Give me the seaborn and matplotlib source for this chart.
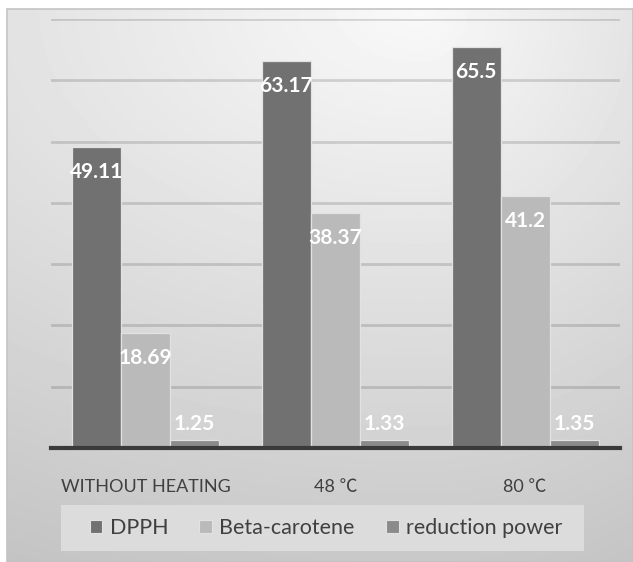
import matplotlib
matplotlib.use("Agg")
import matplotlib.pyplot as plt
from matplotlib.patches import Rectangle
import numpy as np
import pandas as pd
import seaborn as sns

# ---- data ----
conditions = ["WITHOUT HEATING", "48 ℃", "80 ℃"]
assays = ["DPPH", "Beta-carotene", "reduction power"]
dpph = [49.11, 63.17, 65.5]
beta_carotene = [18.69, 38.37, 41.2]
reduction_power = [1.25, 1.33, 1.35]
bar_colors = ["#717171", "#bababa", "#8b8b8b"]

sns.set_theme(style="white")
plt.rcParams["font.family"] = ["Lato", "Noto Sans CJK SC", "DejaVu Sans"]

df = pd.DataFrame({
    "condition": conditions * 3,
    "assay": [a for a in assays for _ in conditions],
    "value": dpph + beta_carotene + reduction_power,
})

W, H = 633, 562
fig = plt.figure(figsize=(W / 100, H / 100), dpi=100)
fig.patch.set_facecolor("white")

# ---- panel background: soft grey gradient, lightest near the top ----
px0, py0 = 7, 9  # panel top-left corner in pixels
pw, ph = W - px0, H - py0
bg = fig.add_axes([px0 / W, 0, pw / W, ph / H], zorder=0)
yy, xx = np.mgrid[0:ph, 0:pw].astype(float)
cx = 420 - px0
dx = xx - cx
rx = np.where(dx < 0, 900.0, 500.0)
d = np.sqrt((dx / rx) ** 2 + (yy / 553.0) ** 2)
shade = np.clip(0.975 - 0.19 * d, 0.74, 1.0)
bg.imshow(shade, cmap="gray", vmin=0, vmax=1, aspect="auto",
          extent=(0, 1, 0, 1), interpolation="bilinear")
bg.set_axis_off()
fig.patches.append(Rectangle((px0 / W, 0), pw / W, ph / H, transform=fig.transFigure,
                             fill=False, edgecolor="#c4c4c4", linewidth=1.2, zorder=1))

# ---- legend backdrop ----
fig.patches.append(Rectangle((61 / W, (H - 551) / H), 523 / W, 46 / H,
                             transform=fig.transFigure, facecolor="#dcdcdc",
                             edgecolor="none", zorder=1))

# ---- bars ----
ax = fig.add_axes([50.5 / W, 114 / H, 569.5 / W, 429 / H], zorder=2)
ax.patch.set_alpha(0)
sns.barplot(data=df, x="condition", y="value", hue="assay", order=conditions,
            hue_order=assays, palette=bar_colors, width=0.775, saturation=1,
            edgecolor="#e2e2e2", linewidth=0.9, ax=ax, legend=False, zorder=3)

ax.set_ylim(0, 70)
ax.set_yticks(np.arange(0, 71, 10))
ax.set_yticklabels([])
ax.tick_params(axis="y", length=0)
ax.yaxis.grid(True, color="black", alpha=0.14, linewidth=2)
ax.set_axisbelow(True)
for s in ["top", "right", "left"]:
    ax.spines[s].set_visible(False)
ax.spines["bottom"].set_color("#3a3a3a")
ax.spines["bottom"].set_linewidth(3)
ax.spines["bottom"].set_zorder(4)
ax.set_xlabel("")
ax.set_ylabel("")
ax.tick_params(axis="x", length=0, pad=22, labelsize=13, labelcolor="#404040")

# ---- value labels ----
for container, vals in zip(ax.containers, [dpph, beta_carotene, reduction_power]):
    for bar, v in zip(container.patches, vals):
        xc = bar.get_x() + bar.get_width() / 2
        off = -18 if v > 10 else 11.5
        ax.annotate(f"{v:g}", (xc, v), xytext=(0, off), textcoords="offset points",
                    ha="center", va="center", color="white", fontsize=15,
                    fontweight="bold", zorder=5)

# ---- legend ----
handles = [Rectangle((0, 0), 1, 1, facecolor=c, edgecolor="#e2e2e2", linewidth=0.8)
           for c in bar_colors]
fig.legend(handles, assays, loc="center", bbox_to_anchor=(326 / W, (H - 528) / H),
           ncol=3, frameon=False, fontsize=15.5, labelcolor="#404040",
           handlelength=0.6, handleheight=0.6, handletextpad=0.33,
           columnspacing=1.45)

fig.savefig("out.png", dpi=100)
